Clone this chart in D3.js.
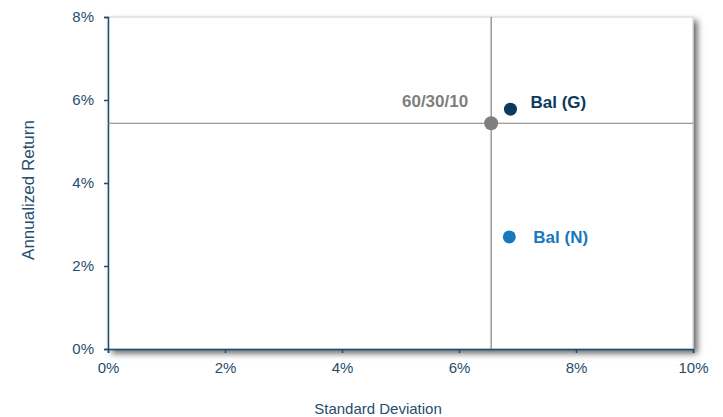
<!DOCTYPE html>
<html><head><meta charset="utf-8">
<script src="https://cdn.jsdelivr.net/npm/d3@7"></script>
<style>body{margin:0;background:#fff;}svg{display:block;font-family:"Liberation Sans",Arial,sans-serif;}</style>
</head><body>
<script>
const names = ["60/30/10", "Bal (G)", "Bal (N)"];
const stdDev = [6.55, 6.88, 6.86];
const annReturn = [5.44, 5.78, 2.70];
const colors = ["#7f7f7f", "#0b3a5e", "#1878be"];
const xTicks = [0, 2, 4, 6, 8, 10];
const yTicks = [0, 2, 4, 6, 8];

const W = 723, H = 417;
const m = {left:108, top:17, right:30, bottom:68};
const svg = d3.select("body").append("svg").attr("width", W).attr("height", H);
const x = d3.scaleLinear().domain([0, 10]).range([m.left, W - m.right]);
const y = d3.scaleLinear().domain([0, 8]).range([H - m.bottom, m.top]);

const defs = svg.append("defs");
const f = defs.append("filter").attr("id","sh").attr("x","-5%").attr("y","-5%").attr("width","115%").attr("height","115%");
f.append("feDropShadow").attr("dx",4).attr("dy",4).attr("stdDeviation",3).attr("flood-color","#000").attr("flood-opacity",0.6);

svg.append("rect").attr("x", x(0)).attr("y", y(8)).attr("width", x(10)-x(0)).attr("height", y(0)-y(8))
  .attr("fill","#fff").attr("stroke","#d0d0d0").attr("stroke-width",1).attr("filter","url(#sh)");

const axisColor = "#1f4e6e";
const gx = svg.append("g").attr("transform", `translate(0,${y(0)})`)
  .call(d3.axisBottom(x).tickValues(xTicks).tickFormat(d => d + "%").tickSize(4).tickPadding(9));
const gy = svg.append("g").attr("transform", `translate(${x(0)},0)`)
  .call(d3.axisLeft(y).tickValues(yTicks).tickFormat(d => d + "%").tickSize(4).tickPadding(10));
[gx, gy].forEach(g => {
  g.selectAll("path").attr("stroke", axisColor).attr("stroke-width", 1.5);
  g.selectAll("line").attr("stroke", axisColor).attr("stroke-width", 1.5);
  g.selectAll("text").attr("fill", axisColor).attr("font-size", 15).attr("font-family", '"Liberation Sans",Arial,sans-serif');
});

// crosshair through benchmark
svg.append("line").attr("x1", x(stdDev[0])).attr("x2", x(stdDev[0])).attr("y1", y(8)).attr("y2", y(0))
  .attr("stroke","#808080").attr("stroke-width",1.2);
svg.append("line").attr("x1", x(0)).attr("x2", x(10)).attr("y1", y(annReturn[0])).attr("y2", y(annReturn[0]))
  .attr("stroke","#808080").attr("stroke-width",1.2);

const radii = [7, 6.5, 6.5];
const labelOffsets = [{dx:-23, dy:-16, anchor:"end"}, {dx:20, dy:-1, anchor:"start"}, {dx:24, dy:6, anchor:"start"}];
names.forEach((n, i) => {
  svg.append("circle").attr("cx", x(stdDev[i])).attr("cy", y(annReturn[i])).attr("r", radii[i]).attr("fill", colors[i]);
  svg.append("text").attr("x", x(stdDev[i]) + labelOffsets[i].dx).attr("y", y(annReturn[i]) + labelOffsets[i].dy)
    .attr("text-anchor", labelOffsets[i].anchor).attr("fill", colors[i]).attr("font-weight","bold").attr("font-size", 17)
    .text(n);
});

svg.append("text").attr("x", 378).attr("y", 414).attr("text-anchor","middle")
  .attr("fill", axisColor).attr("font-size", 15).text("Standard Deviation");
svg.append("text").attr("transform", `translate(34,190) rotate(-90)`).attr("text-anchor","middle")
  .attr("fill", axisColor).attr("font-size", 17).text("Annualized Return");
</script>
</body></html>
